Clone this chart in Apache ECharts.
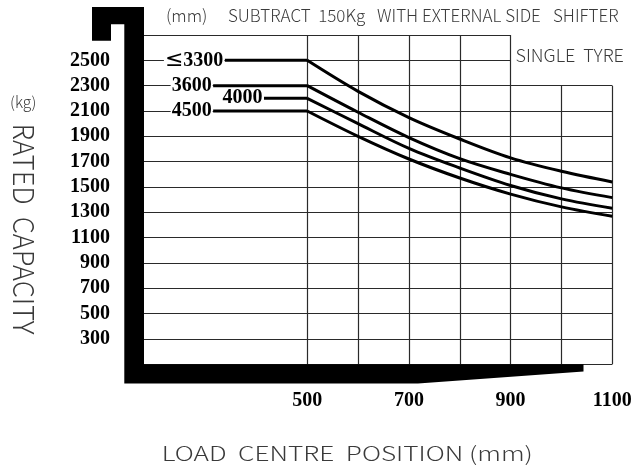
<!DOCTYPE html>
<html><head><meta charset="utf-8">
<script src="https://cdn.jsdelivr.net/npm/echarts@6/dist/echarts.min.js"></script>
<style>html,body{margin:0;padding:0;background:#fff}#c{width:631px;height:470px}</style>
</head><body><div id="c"></div>
<script>
// ---- data ----
const loadCentres = [500, 600, 700, 800, 900, 1000, 1100];
const cap3300 = [2500, 2255, 2048, 1879, 1730, 1624, 1540];
const cap3600 = [2300, 2090, 1890, 1724, 1600, 1493, 1416];
const cap4000 = [2200, 2000, 1805, 1650, 1512, 1406, 1332];
const cap4500 = [2100, 1900, 1721, 1571, 1444, 1343, 1269];
const mastNames = ['≤3300', '3600', '4000', '4500'];
const flatStart = [338, 315, 415, 315];           // load centre (mm) where each flat segment begins
const yTickLabels = [300, 500, 700, 900, 1100, 1300, 1500, 1700, 1900, 2100, 2300, 2500];
const xTickLabels = [500, 700, 900, 1100];
const xGridLines = [500, 600, 700, 800, 900, 1000, 1100];
const yGridLines = [100, 300, 500, 700, 900, 1100, 1300, 1500, 1700, 1900, 2100, 2300, 2500, 2700];
const titleParts = ['(mm)', 'SUBTRACT  150Kg', 'WITH EXTERNAL SIDE', 'SHIFTER'];

const X_MIN = 179, X_MAX = 1100, Y_MIN = 100, Y_MAX = 2700;
const curves = [cap3300, cap3600, cap4000, cap4500];

const chart = echarts.init(document.getElementById('c'), null, {renderer: 'canvas'});

// grid lines (table-like: top rows stop at 900 mm, right columns start at 2300 kg)
const gridSegs = [];
yGridLines.forEach(v => {
  const xEnd = v > 2300 ? 900 : X_MAX;
  gridSegs.push([{coord: [X_MIN, v]}, {coord: [xEnd, v]}]);
});
xGridLines.forEach(v => {
  const yTop = v > 900 ? 2300 : Y_MAX;
  gridSegs.push([{coord: [v, Y_MIN]}, {coord: [v, yTop]}]);
});

const labelFont = {fontFamily: 'Liberation Serif', fontWeight: 'bold', fontSize: 20, color: '#000'};

const series = [{
  type: 'line', data: [], silent: true,
  markLine: {
    silent: true, symbol: ['none', 'none'], animation: false,
    label: {show: false},
    lineStyle: {color: '#2a2a2a', width: 1.2, type: 'solid'},
    emphasis: {disabled: true},
    data: gridSegs
  }
}];

function mastLabel(name) {
  return name.charAt(0) === '≤' ? '{le|≤}' + name.slice(1) : name;
}

curves.forEach((vals, i) => {
  series.push({
    type: 'line', name: mastNames[i], smooth: 0.35, symbol: 'none', z: 5, silent: true,
    lineStyle: {color: '#000', width: 3},
    data: loadCentres.map((x, k) => [x, vals[k]])
  });
  series.push({
    type: 'line', name: mastNames[i] + '_flat', symbol: 'circle', symbolSize: 1, showSymbol: true,
    z: 6, silent: true,
    itemStyle: {color: 'rgba(0,0,0,0)'},
    lineStyle: {color: '#000', width: 3},
    label: {show: false},
    data: [
      {value: [flatStart[i], vals[0]],
       label: Object.assign({show: true, position: 'left', distance: 0, formatter: mastLabel(mastNames[i]),
         backgroundColor: '#fff', padding: [0, 1, 0, 1],
         rich: {le: {fontFamily: 'DejaVu Sans', fontSize: 22, fontWeight: 'normal', color: '#000'}}},
         labelFont)},
      [loadCentres[0], vals[0]]
    ]
  });
});

const textGrey = '#3a3a3a';
const sansFont = 'Noto Sans CJK SC';
const titleX = [166, 228, 377, 553];

const graphics = [
  {type: 'polygon', z: 100, silent: true,
   shape: {points: [[92, 7], [144, 7], [144, 364.3], [583.5, 364.3], [583.5, 371.5], [418, 383.5],
                    [124.3, 383.5], [124.3, 24.3], [111, 24.3], [111, 40.7], [92, 40.7]]},
   style: {fill: '#000'}},
  {type: 'text', x: 515.5, y: 55, z: 100,
   style: {text: 'SINGLE  TYRE', fill: textGrey, font: '300 18px "' + sansFont + '"',
           align: 'left', verticalAlign: 'middle'}},
  {type: 'text', left: 10, top: 94, z: 100,
   style: {text: '(kg)', fill: textGrey, font: '300 15.5px "' + sansFont + '"'}},
  {type: 'text', x: 24, y: 229, rotation: -Math.PI / 2, scaleX: 0.94, z: 100,
   style: {text: 'RATED  CAPACITY', fill: textGrey, font: '300 29px "' + sansFont + '"',
           align: 'center', verticalAlign: 'middle'}},
  {type: 'text', x: 161.7, y: 453, scaleX: 1.31, z: 100,
   style: {text: 'LOAD  CENTRE  POSITION (mm)', fill: textGrey, font: '300 20px "' + sansFont + '"',
           align: 'left', verticalAlign: 'middle'}}
];
titleParts.forEach((w, i) => {
  graphics.push({type: 'text', x: titleX[i], y: 16, z: 100,
    style: {text: w, fill: textGrey, font: '300 17px "' + sansFont + '"', align: 'left', verticalAlign: 'middle'}});
});

chart.setOption({
  animation: false,
  backgroundColor: '#fff',
  grid: {left: 144, right: 18.7, top: 35, bottom: 105.7, containLabel: false, outerBoundsMode: 'none'},
  xAxis: {
    type: 'value', min: X_MIN, max: X_MAX,
    axisLine: {show: false}, axisTick: {show: false}, splitLine: {show: false},
    axisLabel: Object.assign({customValues: xTickLabels, margin: 27, formatter: v => String(v)}, labelFont)
  },
  yAxis: {
    type: 'value', min: Y_MIN, max: Y_MAX, interval: 200,
    axisLine: {show: false}, axisTick: {show: false}, splitLine: {show: false},
    axisLabel: Object.assign({customValues: yTickLabels, margin: 34, padding: [6, 0, 0, 0],
                              formatter: v => String(v)}, labelFont)
  },
  series: series,
  graphic: graphics
});
</script></body></html>
